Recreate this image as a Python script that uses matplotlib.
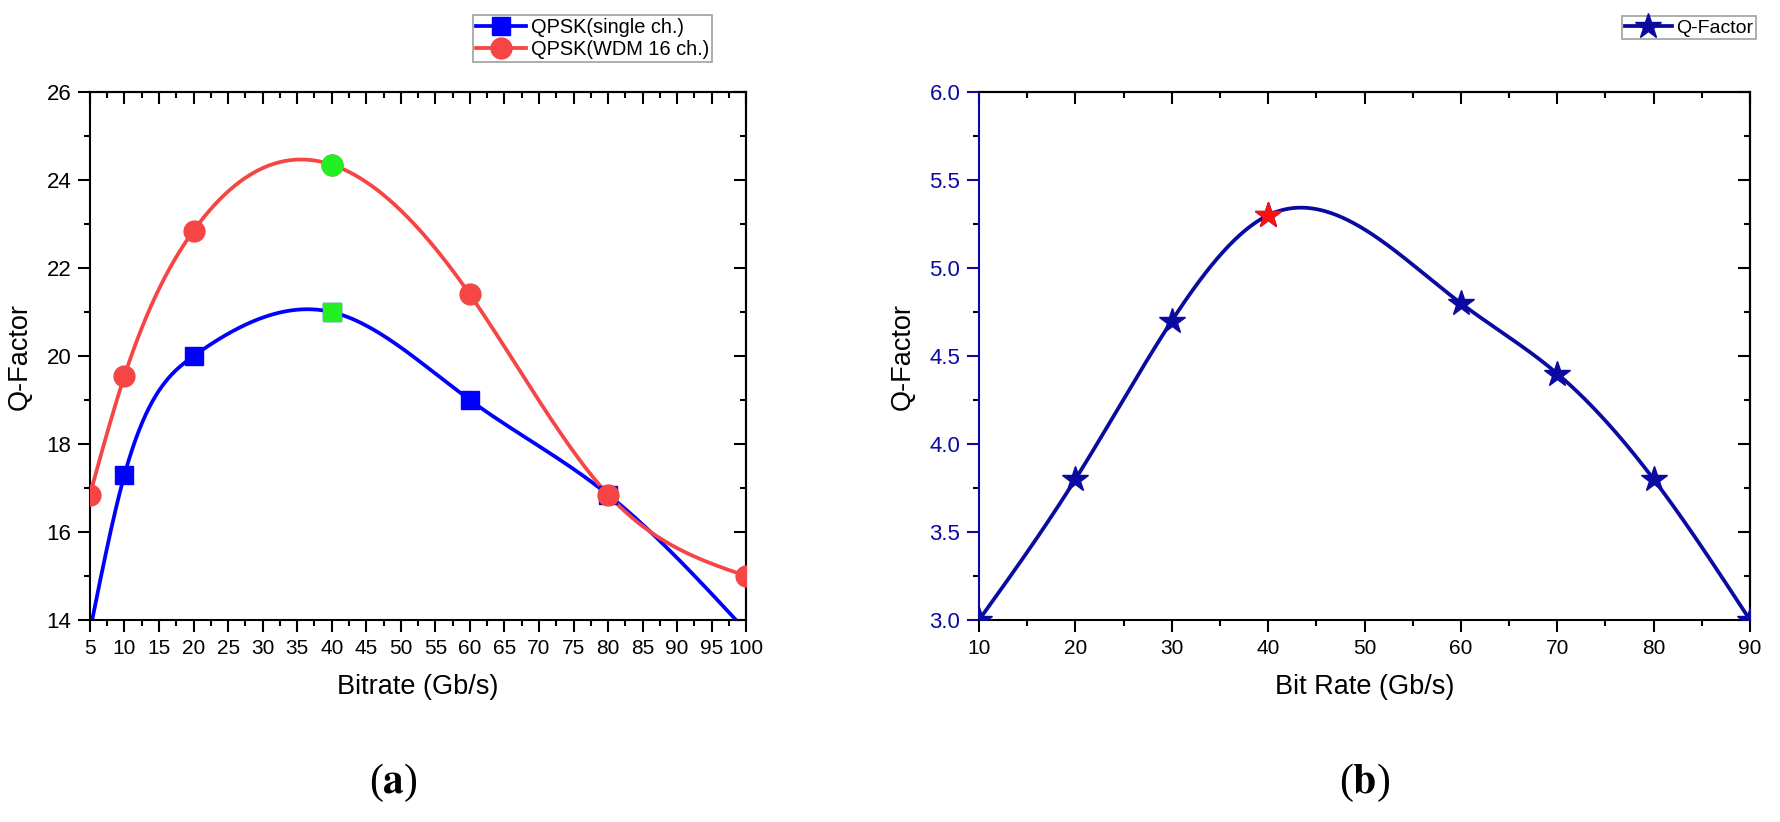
import matplotlib
matplotlib.use("Agg")
import matplotlib.pyplot as plt
import numpy as np
from matplotlib.ticker import MultipleLocator, FormatStrFormatter

plt.rcParams['font.family'] = ['Liberation Sans', 'DejaVu Sans']
plt.rcParams['mathtext.fontset'] = 'stix'

# Données (a)
bitrate_a = [5, 10, 20, 40, 60, 80, 100]
q_single = [13.75, 17.3, 20.0, 21.0, 19.0, 16.85, 13.75]
q_wdm = [16.85, 19.55, 22.85, 24.35, 21.4, 16.85, 15.0]
best_a = 3  # point optimal (40 Gb/s)

# Données (b)
bitrate_b = [10, 20, 30, 40, 60, 70, 80, 90]
q_b = [3.0, 3.8, 4.7, 5.3, 4.8, 4.4, 3.8, 3.0]
best_b = 3

BLUE = '#0000FF'
RED = '#F54545'
GREEN = '#22F022'
NAVY = '#0A0AA0'


def natural_spline(x, y, n=400):
    # spline cubique naturelle pour une courbe lisse (style Origin)
    x = np.asarray(x, float)
    y = np.asarray(y, float)
    k = len(x)
    h = np.diff(x)
    A = np.zeros((k, k))
    r = np.zeros(k)
    A[0, 0] = 1
    A[-1, -1] = 1
    for i in range(1, k - 1):
        A[i, i - 1] = h[i - 1]
        A[i, i] = 2 * (h[i - 1] + h[i])
        A[i, i + 1] = h[i]
        r[i] = 6 * ((y[i + 1] - y[i]) / h[i] - (y[i] - y[i - 1]) / h[i - 1])
    M = np.linalg.solve(A, r)
    xs = np.linspace(x[0], x[-1], n)
    idx = np.clip(np.searchsorted(x, xs) - 1, 0, k - 2)
    x0, x1 = x[idx], x[idx + 1]
    hh = x1 - x0
    ys = (M[idx] * (x1 - xs) ** 3 / (6 * hh) + M[idx + 1] * (xs - x0) ** 3 / (6 * hh)
          + (y[idx] / hh - M[idx] * hh / 6) * (x1 - xs)
          + (y[idx + 1] / hh - M[idx + 1] * hh / 6) * (xs - x0))
    return xs, ys


def origin_ticks(ax, left_color='black'):
    ax.tick_params(which='both', direction='out', top=False, right=False, width=1.5)
    ax.tick_params(which='major', length=8.5)
    ax.tick_params(which='minor', length=4)
    ax.tick_params(axis='y', colors=left_color, labelsize=16)
    for s in ax.spines.values():
        s.set_linewidth(1.5)
    ax.spines['left'].set_color(left_color)
    # ticks intérieurs sur les axes du haut et de droite
    tx = ax.secondary_xaxis('top')
    tx.set_xticks(ax.get_xticks())
    tx.xaxis.set_minor_locator(ax.xaxis.get_minor_locator())
    tx.tick_params(which='both', direction='in', labeltop=False, width=1.5)
    tx.tick_params(which='major', length=8.5)
    tx.tick_params(which='minor', length=4)
    tx.spines['top'].set_linewidth(1.5)
    ty = ax.secondary_yaxis('right')
    ty.set_yticks(ax.get_yticks())
    ty.yaxis.set_minor_locator(ax.yaxis.get_minor_locator())
    ty.tick_params(which='both', direction='in', labelright=False, width=1.5)
    ty.tick_params(which='major', length=8.5)
    ty.tick_params(which='minor', length=4)
    ty.spines['right'].set_linewidth(1.5)


fig = plt.figure(figsize=(17.81, 8.22), dpi=100)

# ---------- (a) ----------
ax1 = fig.add_axes([0.0505, 0.2457, 0.3685, 0.6423])
for q, col, mk, ms, lab in [(q_single, BLUE, 's', 13.5, 'QPSK(single ch.)'),
                            (q_wdm, RED, 'o', 15, 'QPSK(WDM 16 ch.)')]:
    xs, ys = natural_spline(bitrate_a, q)
    ax1.plot(xs, ys, color=col, lw=2.7, zorder=2)
    ax1.plot(bitrate_a, q, linestyle='None', marker=mk, ms=ms, color=col, zorder=3)
    ax1.plot(bitrate_a[best_a], q[best_a], linestyle='None', marker=mk, ms=ms, color=GREEN, zorder=4)
    ax1.plot([], [], color=col, lw=2.7, marker=mk, ms=ms, label=lab)
ax1.set_xlim(5, 100)
ax1.set_ylim(14, 26)
ax1.set_xticks(np.arange(5, 101, 5))
ax1.xaxis.set_minor_locator(MultipleLocator(2.5))
ax1.set_yticks(np.arange(14, 27, 2))
ax1.yaxis.set_minor_locator(MultipleLocator(1))
ax1.tick_params(labelsize=15, pad=5)
ax1.set_xlabel('Bitrate (Gb/s)', fontsize=19.5, labelpad=12)
ax1.set_ylabel('Q-Factor', fontsize=19.5, labelpad=10)
origin_ticks(ax1)
leg1 = ax1.legend(loc='upper left', bbox_to_anchor=(473 / 1781, 1 - 15 / 822),
                  bbox_transform=fig.transFigure, fontsize=14.4, frameon=True,
                  fancybox=False, edgecolor='#888888', handlelength=2.5,
                  handletextpad=0.25, borderpad=0.15, labelspacing=0.15, borderaxespad=0)
leg1.get_frame().set_linewidth(1.2)

# ---------- (b) ----------
ax2 = fig.add_axes([0.5497, 0.2457, 0.4329, 0.6423])
xs, ys = natural_spline(bitrate_b, q_b)
ax2.plot(xs, ys, color=NAVY, lw=2.7, zorder=2)
ax2.plot(bitrate_b, q_b, linestyle='None', marker='*', ms=19, color=NAVY, zorder=3)
ax2.plot(bitrate_b[best_b], q_b[best_b], linestyle='None', marker='*', ms=19, color='#FF1010', zorder=4)
ax2.plot([], [], color=NAVY, lw=2.7, marker='*', ms=19, label='Q-Factor')
ax2.set_xlim(10, 90)
ax2.set_ylim(3.0, 6.0)
ax2.set_xticks(np.arange(10, 91, 10))
ax2.xaxis.set_minor_locator(MultipleLocator(5))
ax2.set_yticks(np.arange(3.0, 6.01, 0.5))
ax2.yaxis.set_minor_locator(MultipleLocator(0.25))
ax2.yaxis.set_major_formatter(FormatStrFormatter('%.1f'))
ax2.tick_params(labelsize=15, pad=5)
ax2.set_xlabel('Bit Rate (Gb/s)', fontsize=19.5, labelpad=12)
ax2.set_ylabel('Q-Factor', fontsize=19.5, labelpad=10)
origin_ticks(ax2, left_color=NAVY)
leg2 = ax2.legend(loc='upper left', bbox_to_anchor=(1622 / 1781, 1 - 16 / 822),
                  bbox_transform=fig.transFigure, fontsize=14, frameon=True,
                  fancybox=False, edgecolor='#888888', handlelength=2.4,
                  handletextpad=0.25, borderpad=0.15, borderaxespad=0)
leg2.get_frame().set_linewidth(1.2)

# étiquettes des sous-figures
fig.text(393 / 1781, 1 - 783 / 822, r'($\mathbf{a}$)', fontsize=30, ha='center', va='center',
         family=['Liberation Serif', 'DejaVu Serif'])
fig.text(1365 / 1781, 1 - 783 / 822, r'($\mathbf{b}$)', fontsize=30, ha='center', va='center',
         family=['Liberation Serif', 'DejaVu Serif'])

fig.savefig('out.png', dpi=100)
